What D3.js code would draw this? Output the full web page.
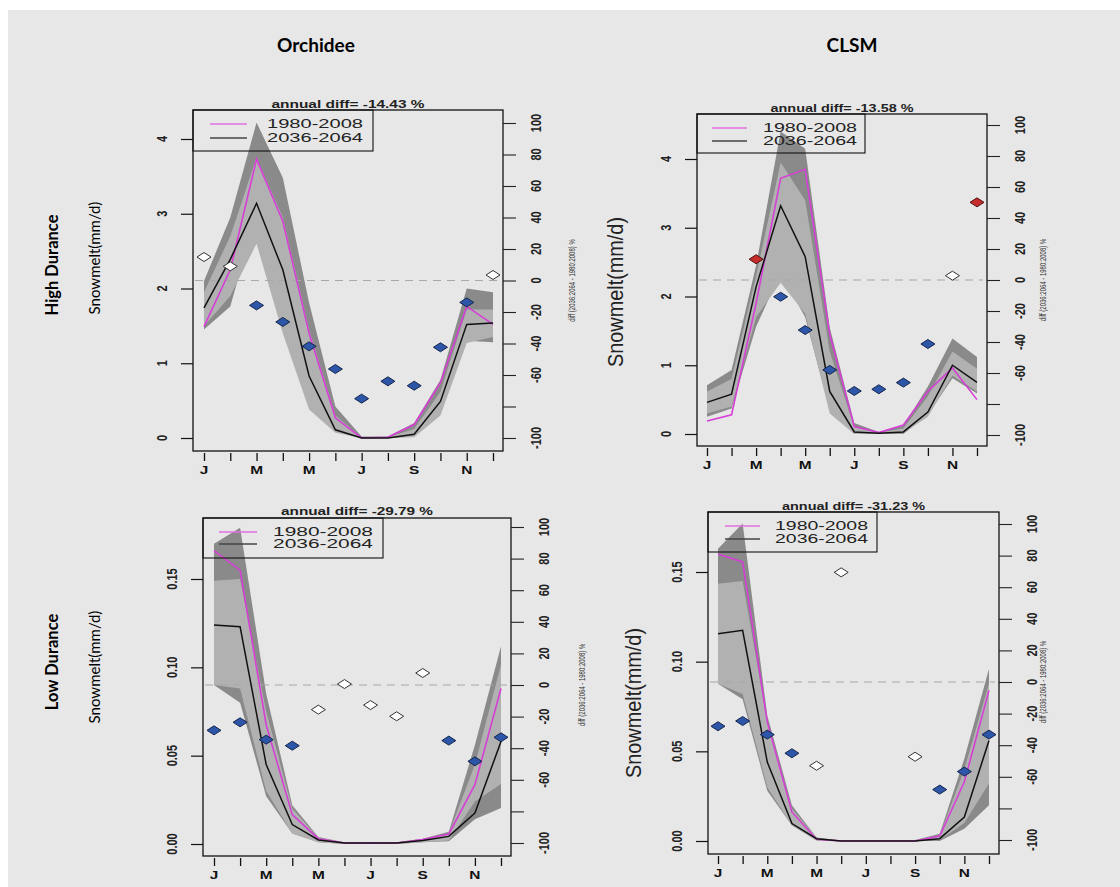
<!DOCTYPE html>
<html>
<head>
<meta charset="utf-8">
<script src="https://cdn.jsdelivr.net/npm/d3@7"></script>
<style>
  body { margin: 0; background: #fff; }
  text { font-family: "Liberation Sans", Arial, sans-serif; }
</style>
</head>
<body>
<svg id="chart" width="1120" height="887"></svg>
<script>
// months on the x axis
var months = [1, 2, 3, 4, 5, 6, 7, 8, 9, 10, 11, 12];
var monthLabels = ["J", "", "M", "", "M", "", "J", "", "S", "", "N", ""];
var periods = ["1980-2008", "2036-2064"];
var rightTicks = [-100, -80, -60, -40, -20, 0, 20, 40, 60, 80, 100];
var rightTickLabels = ["-100", "", "-60", "-40", "-20", "0", "20", "40", "60", "80", "100"];
var highTicks = [0, 1, 2, 3, 4];
var lowTicks = [0, 0.05, 0.10, 0.15];

// Orchidee - High Durance (mm/d and % diff)
var orcHighHist   = [1.49, 2.25, 3.73, 2.90, 1.40, 0.27, 0.00, 0.01, 0.18, 0.74, 1.76, 1.52];
var orcHighFut    = [1.74, 2.39, 3.14, 2.25, 0.83, 0.11, 0.00, 0.00, 0.05, 0.49, 1.52, 1.54];
var orcHighHistHi = [2.10, 2.95, 4.22, 3.48, 1.81, 0.42, 0.02, 0.02, 0.20, 0.78, 2.00, 1.95];
var orcHighHistLo = [1.45, 1.76, 3.00, 2.20, 0.90, 0.12, 0.00, 0.00, 0.02, 0.35, 1.30, 1.28];
var orcHighFutHi  = [1.95, 2.70, 3.75, 2.95, 1.45, 0.30, 0.01, 0.01, 0.12, 0.62, 1.72, 1.72];
var orcHighFutLo  = [1.50, 1.90, 2.60, 1.40, 0.38, 0.07, 0.00, 0.00, 0.01, 0.30, 1.27, 1.35];
var orcHighDiff   = [14.9, 9.0, -15.8, -26.3, -41.8, -56.2, -75.0, -64.0, -66.8, -42.4, -13.9, 3.5];
var orcHighSig    = [0, 0, -1, -1, -1, -1, -1, -1, -1, -1, -1, 0];

// CLSM - High Durance
var clsmHighHist   = [0.19, 0.28, 1.90, 3.72, 3.85, 1.45, 0.11, 0.02, 0.13, 0.62, 0.96, 0.50];
var clsmHighFut    = [0.46, 0.58, 2.14, 3.32, 2.58, 0.62, 0.03, 0.01, 0.03, 0.32, 1.00, 0.75];
var clsmHighHistHi = [0.71, 0.93, 2.45, 4.40, 4.15, 1.55, 0.16, 0.03, 0.12, 0.69, 1.39, 1.12];
var clsmHighHistLo = [0.25, 0.37, 1.56, 2.35, 1.70, 0.35, 0.00, 0.00, 0.00, 0.28, 0.81, 0.59];
var clsmHighFutHi  = [0.62, 0.80, 2.30, 3.95, 3.40, 1.20, 0.10, 0.02, 0.08, 0.55, 1.20, 0.95];
var clsmHighFutLo  = [0.30, 0.40, 1.70, 2.20, 1.75, 0.30, 0.00, 0.00, 0.01, 0.25, 0.85, 0.62];
var clsmHighDiff   = [null, null, 13.4, -10.8, -32.3, -58.0, -71.6, -70.5, -66.2, -41.3, 2.8, 50.1];
var clsmHighSig    = [0, 0, 1, -1, -1, -1, -1, -1, -1, -1, 0, 1];

// Orchidee - Low Durance
var orcLowHist   = [0.166, 0.155, 0.0675, 0.0166, 0.003, 0.0006, 0.0005, 0.0006, 0.0025, 0.0057, 0.0336, 0.088];
var orcLowFut    = [0.124, 0.123, 0.045, 0.011, 0.0023, 0.0006, 0.0005, 0.0006, 0.002, 0.0043, 0.0175, 0.058];
var orcLowHistHi = [0.170, 0.179, 0.085, 0.022, 0.004, 0.001, 0.001, 0.001, 0.003, 0.007, 0.056, 0.112];
var orcLowHistLo = [0.090, 0.080, 0.027, 0.006, 0.001, 0, 0, 0, 0.001, 0.0015, 0.014, 0.0204];
var orcLowFutHi  = [0.149, 0.150, 0.075, 0.020, 0.0035, 0.001, 0.001, 0.001, 0.0025, 0.006, 0.045, 0.1015];
var orcLowFutLo  = [0.090, 0.088, 0.030, 0.006, 0.001, 0, 0, 0, 0.001, 0.002, 0.024, 0.034];
var orcLowDiff   = [-28.7, -23.6, -34.6, -38.4, -15.6, 0.6, -12.7, -19.8, 7.6, -35.2, -48.3, -33.1];
var orcLowSig    = [-1, -1, -1, -1, 0, 0, 0, 0, 0, -1, -1, -1];

// CLSM - Low Durance
var clsmLowHist   = [0.160, 0.1556, 0.0664, 0.0162, 0.001, 0, 0, 0, 0, 0.0028, 0.033, 0.084];
var clsmLowFut    = [0.1156, 0.1175, 0.044, 0.0097, 0.0013, 0, 0, 0, 0, 0.0013, 0.0134, 0.056];
var clsmLowHistHi = [0.163, 0.177, 0.070, 0.020, 0.002, 0.0003, 0.0003, 0.0003, 0.0005, 0.004, 0.046, 0.096];
var clsmLowHistLo = [0.0877, 0.079, 0.028, 0.0087, 0.0003, 0, 0, 0, 0, 0, 0.0069, 0.020];
var clsmLowFutHi  = [0.1435, 0.145, 0.066, 0.018, 0.0018, 0.0003, 0.0003, 0.0003, 0.0005, 0.003, 0.040, 0.088];
var clsmLowFutLo  = [0.0877, 0.082, 0.030, 0.0087, 0.0003, 0, 0, 0, 0, 0.0005, 0.010, 0.032];
var clsmLowDiff   = [-28.0, -24.7, -33.3, -45.1, -53.0, 69.4, null, null, -47.3, -68.1, -56.7, -33.3];
var clsmLowSig    = [-1, -1, -1, -1, 0, 0, 0, 0, 0, -1, -1, -1];

var annualDiff = ["-14.43", "-13.58", "-29.79", "-31.23"];

var COL_HIST = "#d63fd6", COL_FUT = "#111";
var BAND_DARK = "#8a8a8a", BAND_LIGHT = "#b1b1b1";
var STRETCH = 1.4; // the R plots were pasted stretched sideways

var panels = [
  { hist: orcHighHist, fut: orcHighFut, hHi: orcHighHistHi, hLo: orcHighHistLo, fHi: orcHighFutHi, fLo: orcHighFutLo,
    diff: orcHighDiff, sig: orcHighSig, title: annualDiff[0], ticks: highTicks, fmt: d3.format("d"),
    box: [193, 503, 110, 451], xr: [204, 493], yl: [438, 139], yr: [438, 123], yMax: 4,
    leg: { w: 180, h: 41, l1: 14, l2: 28, lx0: 17, lx1: 54, tx: 74, tw: 96 }, titleY: 108, tw: 153, diffX: 572, ylab: null },
  { hist: clsmHighHist, fut: clsmHighFut, hHi: clsmHighHistHi, hLo: clsmHighHistLo, fHi: clsmHighFutHi, fLo: clsmHighFutLo,
    diff: clsmHighDiff, sig: clsmHighSig, title: annualDiff[1], ticks: highTicks, fmt: d3.format("d"),
    box: [697, 987, 114, 446], xr: [707, 977], yl: [434, 159], yr: [435, 125], yMax: 4,
    leg: { w: 168, h: 39, l1: 14, l2: 27, lx0: 15, lx1: 50, tx: 66, tw: 94 }, titleY: 112, tw: 143, diffX: 1043, ylab: [615, 292] },
  { hist: orcLowHist, fut: orcLowFut, hHi: orcLowHistHi, hLo: orcLowHistLo, fHi: orcLowFutHi, fLo: orcLowFutLo,
    diff: orcLowDiff, sig: orcLowSig, title: annualDiff[2], ticks: lowTicks, fmt: d3.format(".2f"),
    box: [203, 511, 518, 856], xr: [214, 501], yl: [844, 579], yr: [843, 527], yMax: 0.15,
    leg: { w: 180, h: 40, l1: 14, l2: 26, lx0: 16, lx1: 54, tx: 70, tw: 100 }, titleY: 515, tw: 152, diffX: 582, ylab: null },
  { hist: clsmLowHist, fut: clsmLowFut, hHi: clsmLowHistHi, hLo: clsmLowHistLo, fHi: clsmLowFutHi, fLo: clsmLowFutLo,
    diff: clsmLowDiff, sig: clsmLowSig, title: annualDiff[3], ticks: lowTicks, fmt: d3.format(".2f"),
    box: [708, 999, 512, 854], xr: [718, 989], yl: [841, 572], yr: [840, 524], yMax: 0.15,
    leg: { w: 169, h: 40, l1: 14, l2: 27, lx0: 17, lx1: 52, tx: 67, tw: 93 }, titleY: 510, tw: 143, diffX: 1043, ylab: [633, 703] }
];

var svg = d3.select("#chart");

// slide background
svg.append("rect").attr("x", 8).attr("y", 10).attr("width", 1112).attr("height", 877).attr("fill", "#e7e7e7");

// column headings
svg.append("text").attr("x", 316).attr("y", 52).attr("text-anchor", "middle")
  .style("font-family", "Lato, 'Open Sans', sans-serif").style("font-weight", "bold").style("font-size", "19px").text("Orchidee");
svg.append("text").attr("x", 852).attr("y", 52).attr("text-anchor", "middle")
  .style("font-family", "Lato, 'Open Sans', sans-serif").style("font-weight", "bold").style("font-size", "19px").text("CLSM");

// row labels
function rotLabel(x, y, txt, size, bold) {
  svg.append("text").attr("transform", "translate(" + x + "," + y + ") rotate(-90)")
    .attr("text-anchor", "middle")
    .style("font-family", "Lato, 'Open Sans', sans-serif")
    .style("font-weight", bold ? "bold" : "normal").style("font-size", size + "px").text(txt);
}
rotLabel(58, 265, "High Durance", 16.5, true);
rotLabel(100, 258, "Snowmelt(mm/d)", 15, false);
rotLabel(58, 662, "Low Durance", 16.5, true);
rotLabel(100, 667, "Snowmelt(mm/d)", 15, false);

function diamond(hw, hh) {
  return "M0," + (-hh) + "L" + hw + ",0L0," + hh + "L" + (-hw) + ",0Z";
}

panels.forEach(function(p) {
  var g = svg.append("g");
  var x = d3.scaleLinear().domain([1, 12]).range(p.xr);
  var y = d3.scaleLinear().domain([0, p.yMax]).range(p.yl);
  var yR = d3.scaleLinear().domain([-100, 100]).range(p.yr);
  var x0 = p.box[0], x1 = p.box[1], y0 = p.box[2], y1 = p.box[3];

  // ranges: historical (dark) below, future (light) on top
  var band = function(lo, hi) {
    return d3.area().x(function(d) { return x(d); })
      .y0(function(d, i) { return y(lo[i]); })
      .y1(function(d, i) { return y(hi[i]); })(months);
  };
  g.append("path").attr("d", band(p.hLo, p.hHi)).attr("fill", BAND_DARK);
  g.append("path").attr("d", band(p.fLo, p.fHi)).attr("fill", BAND_LIGHT);

  // zero line of the % axis
  g.append("line").attr("x1", x0 + 2).attr("x2", x1 - 4)
    .attr("y1", yR(0)).attr("y2", yR(0))
    .attr("stroke", "#a8a8a8").attr("stroke-width", 1.2).attr("stroke-dasharray", "8,6");

  var line = function(vals) {
    return d3.line().x(function(d) { return x(d); }).y(function(d, i) { return y(vals[i]); })(months);
  };
  g.append("path").attr("d", line(p.hist)).attr("fill", "none").attr("stroke", COL_HIST).attr("stroke-width", 1.6);
  g.append("path").attr("d", line(p.fut)).attr("fill", "none").attr("stroke", COL_FUT).attr("stroke-width", 1.5);

  // % difference diamonds
  months.forEach(function(m, i) {
    var v = p.diff[i];
    if (v === null) return;
    var s = p.sig[i];
    g.append("path").attr("d", diamond(7, 4.5))
      .attr("transform", "translate(" + x(m) + "," + yR(v) + ")")
      .attr("fill", s < 0 ? "#2d56a8" : (s > 0 ? "#c62c2a" : "#ffffff"))
      .attr("stroke", s < 0 ? "#15264d" : (s > 0 ? "#501010" : "#333"))
      .attr("stroke-width", 1);
  });

  // frame
  g.append("rect").attr("x", x0).attr("y", y0).attr("width", x1 - x0).attr("height", y1 - y0)
    .attr("fill", "none").attr("stroke", "#111").attr("stroke-width", 1.3);

  // left axis
  var ga = g.append("g").attr("transform", "translate(" + x0 + ",0)")
    .call(d3.axisLeft(y).tickValues(p.ticks).tickFormat("").tickSize(12).tickSizeOuter(0));
  ga.select(".domain").remove();
  ga.selectAll("line").attr("stroke", "#111").attr("stroke-width", 1.2);
  p.ticks.forEach(function(t) {
    g.append("text").attr("transform", "translate(" + (x0 - 31) + "," + y(t) + ") rotate(-90) scale(1," + STRETCH + ")")
      .attr("text-anchor", "middle").attr("dy", "0.35em")
      .style("font-size", "11px").style("font-weight", "bold").attr("fill", "#222").text(p.fmt(t));
  });

  // right axis (% diff)
  var gr = g.append("g").attr("transform", "translate(" + x1 + ",0)")
    .call(d3.axisRight(yR).tickValues(rightTicks).tickFormat("").tickSize(13).tickSizeOuter(0));
  gr.select(".domain").remove();
  gr.selectAll("line").attr("stroke", "#222").attr("stroke-width", 1.1);
  rightTicks.forEach(function(t, i) {
    g.append("text").attr("transform", "translate(" + (x1 + 33) + "," + yR(t) + ") rotate(-90) scale(1," + STRETCH + ")")
      .attr("text-anchor", "middle").attr("dy", "0.35em")
      .style("font-size", "11px").style("font-weight", "bold").attr("fill", "#222").text(rightTickLabels[i]);
  });
  g.append("text").attr("transform", "translate(" + p.diffX + "," + yR(0) + ") rotate(-90) scale(1," + STRETCH + ")")
    .attr("text-anchor", "middle").attr("dy", "0.35em")
    .style("font-size", "6px").attr("fill", "#333").text("diff (2036:2064 - 1980:2008) %");

  // bottom axis
  var gb = g.append("g").attr("transform", "translate(0," + (y1 + 2) + ")")
    .call(d3.axisBottom(x).tickValues(months).tickFormat("").tickSize(8).tickSizeOuter(0));
  gb.select(".domain").remove();
  gb.selectAll("line").attr("stroke", "#111").attr("stroke-width", 1.3);
  months.forEach(function(m, i) {
    if (!monthLabels[i]) return;
    g.append("text").attr("transform", "translate(" + x(m) + "," + (y1 + 23) + ") scale(" + STRETCH + ",1)")
      .attr("text-anchor", "middle")
      .style("font-size", "11px").style("font-weight", "bold").attr("fill", "#111").text(monthLabels[i]);
  });

  // title
  g.append("text").attr("x", (x0 + x1) / 2).attr("y", p.titleY).attr("text-anchor", "middle")
    .attr("textLength", p.tw).attr("lengthAdjust", "spacingAndGlyphs")
    .style("font-size", "10.5px").style("font-weight", "bold").attr("fill", "#222")
    .text("annual diff= " + p.title + " %");

  // legend
  var L = p.leg;
  var lg = g.append("g").attr("transform", "translate(" + x0 + "," + y0 + ")");
  lg.append("rect").attr("width", L.w).attr("height", L.h).attr("fill", "none").attr("stroke", "#111").attr("stroke-width", 1.1);
  [COL_HIST, COL_FUT].forEach(function(c, i) {
    var ly = i === 0 ? L.l1 : L.l2;
    lg.append("line").attr("x1", L.lx0).attr("x2", L.lx1).attr("y1", ly).attr("y2", ly)
      .attr("stroke", i === 0 ? "#e070e0" : "#444").attr("stroke-width", 1.3);
    lg.append("text").attr("x", L.tx).attr("y", ly).attr("dy", "0.36em")
      .attr("textLength", L.tw).attr("lengthAdjust", "spacingAndGlyphs")
      .style("font-size", "12px").attr("fill", "#222").text(periods[i]);
  });

  // y label drawn by R on the CLSM panels
  if (p.ylab) {
    g.append("text").attr("transform", "translate(" + p.ylab[0] + "," + p.ylab[1] + ") rotate(-90) scale(1,1.2)")
      .attr("text-anchor", "middle").attr("dy", "0.35em")
      .attr("textLength", 150).attr("lengthAdjust", "spacingAndGlyphs")
      .style("font-size", "18px").attr("fill", "#222").text("Snowmelt(mm/d)");
  }
});
</script>
</body>
</html>
